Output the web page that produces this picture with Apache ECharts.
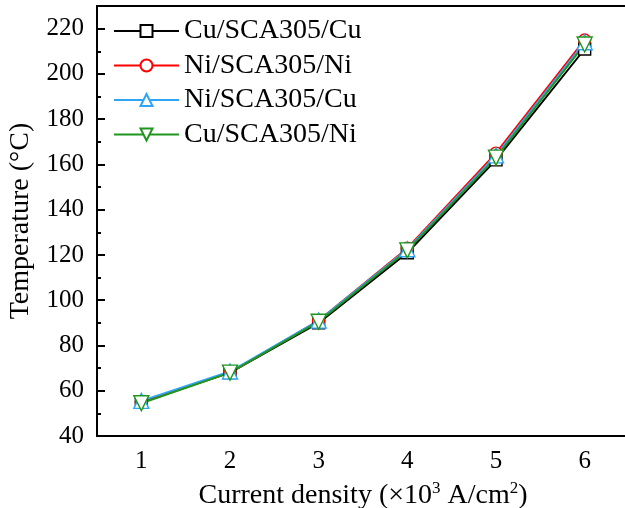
<!DOCTYPE html>
<html>
<head>
    <meta charset="UTF-8">
    <title>Temperature vs current density</title>
    <script type="text/javascript" src="https://cdn.jsdelivr.net/npm/echarts@6/dist/echarts.min.js"></script>
    <style>
        html, body { margin: 0; padding: 0; background: #fff; }
    </style>
</head>
<body>
<div id="main" style="width: 625px;height:508px;"></div>
<script type="text/javascript">
    // 数据
    var densities = ['1', '2', '3', '4', '5', '6'];
    var seriesNames = ['Cu/SCA305/Cu', 'Ni/SCA305/Ni', 'Ni/SCA305/Cu', 'Cu/SCA305/Ni'];
    var cuCu = [55, 68, 90, 121, 162, 211];
    var niNi = [55, 68, 91, 123, 165, 215];
    var niCu = [55.5, 68.5, 91, 122.5, 164, 214];
    var cuNi = [54.5, 68, 90.5, 122, 163, 213];

    var font = 'Liberation Serif, Times New Roman, serif';
    var myChart = echarts.init(document.getElementById('main'));

    function makeSeries(name, data, color, symbol, rotate) {
        return {
            name: name,
            type: 'line',
            xAxisIndex: 0,
            yAxisIndex: 0,
            data: data,
            symbol: symbol,
            symbolSize: symbol == 'triangle' ? 15 : 12,
            symbolRotate: rotate,
            showSymbol: true,
            animation: false,
            lineStyle: { color: color, width: 2 },
            itemStyle: { color: '#fff', borderColor: color, borderWidth: 1.4 }
        };
    }

    myChart.setOption({
        animation: false,
        grid: {
            left: 97, top: 6, bottom: 72, right: -4,
            outerBoundsMode: 'none',
            show: true, borderColor: '#000', borderWidth: 2, backgroundColor: 'transparent'
        },
        legend: {
            left: 108, top: 11, orient: 'vertical',
            itemWidth: 65, itemHeight: 15, itemGap: 4.5,
            data: seriesNames,
            textStyle: { fontFamily: font, fontSize: 28, color: '#000', lineHeight: 30 }
        },
        xAxis: [{
            type: 'category',
            data: densities,
            boundaryGap: true,
            axisLine: { lineStyle: { color: '#000', width: 2 } },
            axisTick: { inside: true, alignWithLabel: true, length: 8, interval: 0, lineStyle: { width: 2, color: '#000' } },
            axisLabel: { interval: 0, margin: 13, fontFamily: font, fontSize: 25, color: '#000' },
            splitLine: { show: false },
            name: 'Current density (×10{sup|3} A/cm{sup|2})',
            nameLocation: 'middle',
            nameGap: 44,
            nameTextStyle: {
                fontFamily: font, fontSize: 28, color: '#000',
                rich: { sup: { fontFamily: font, fontSize: 17, color: '#000', verticalAlign: 'top', padding: [0, 0, 14, 0] } }
            }
        }, {
            type: 'category',
            data: densities,
            position: 'bottom',
            boundaryGap: true,
            axisLine: { show: false },
            axisTick: { inside: true, length: 4, interval: 0, lineStyle: { width: 2, color: '#000' } },
            axisLabel: { show: false },
            splitLine: { show: false }
        }],
        yAxis: [{
            type: 'value',
            min: 40, max: 230, interval: 20,
            axisLine: { show: true, lineStyle: { color: '#000', width: 2 } },
            axisTick: { show: true, inside: true, length: 8, lineStyle: { width: 2, color: '#000' } },
            axisLabel: { showMaxLabel: false, margin: 13, fontFamily: font, fontSize: 25, color: '#000' },
            splitLine: { show: false },
            name: 'Temperature (°C)',
            nameLocation: 'middle',
            nameRotate: 90,
            nameGap: 62,
            nameTextStyle: { fontFamily: font, fontSize: 28, color: '#000' }
        }, {
            type: 'value',
            position: 'left',
            min: 40, max: 230, interval: 10,
            axisLine: { show: false },
            axisTick: { show: true, inside: true, length: 4, lineStyle: { width: 2, color: '#000' } },
            axisLabel: { show: false },
            splitLine: { show: false }
        }],
        series: [
            makeSeries(seriesNames[0], cuCu, '#000000', 'rect', 0),
            makeSeries(seriesNames[1], niNi, '#ff0000', 'circle', 0),
            makeSeries(seriesNames[2], niCu, '#2ea6f5', 'triangle', 0),
            makeSeries(seriesNames[3], cuNi, '#1f961f', 'triangle', 180)
        ]
    });
</script>
</body>
</html>
